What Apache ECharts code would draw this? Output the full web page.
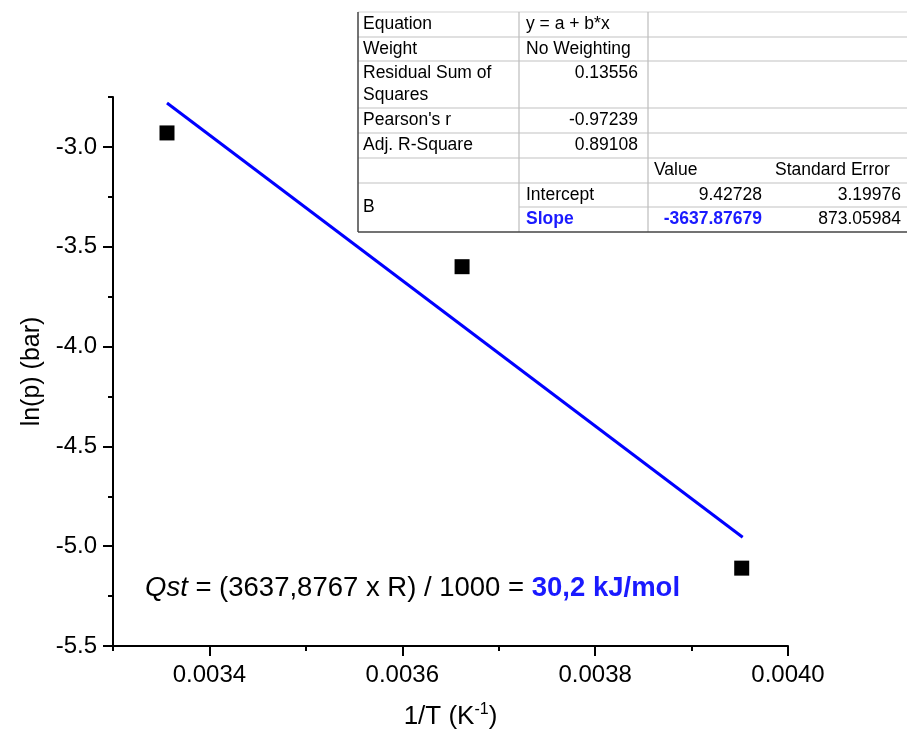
<!DOCTYPE html>
<html><head><meta charset="utf-8">
<script src="https://cdn.jsdelivr.net/npm/echarts@6/dist/echarts.min.js"></script>
<style>html,body{margin:0;padding:0;background:#fff}#c{width:907px;height:738px}</style>
</head><body><div id="c"></div>
<script>
// ---- data ----
const pointX = [0.003356, 0.003662, 0.003952];
const pointY = [-2.93, -3.60, -5.11];
const fitX = [0.003356, 0.003953];
const fitY = [-2.78, -4.955];
const xTickLabels = [0.0034, 0.0036, 0.0038, 0.0040];
const yTickLabels = [-5.5, -5.0, -4.5, -4.0, -3.5, -3.0];
const tableLabels = ['Equation', 'Weight', 'Residual Sum of\nSquares', "Pearson's r", 'Adj. R-Square'];
const tableValues = ['y = a + b*x', 'No Weighting', '0.13556', '-0.97239', '0.89108'];
const paramGroup = 'B';
const paramHeaders = ['Value', 'Standard Error'];
const paramNames = ['Intercept', 'Slope'];
const paramValues = ['9.42728', '-3637.87679'];
const paramErrors = ['3.19976', '873.05984'];
const annotationText = '{i|Qst} = (3637,8767 x R) / 1000 = {b|30,2 kJ/mol}';

const FONT = '"Liberation Sans", Arial, sans-serif';
const BLUE = '#1a1aff';
const chart = echarts.init(document.getElementById('c'), null, {renderer: 'canvas'});

// ---- table graphic ----
const rowsY = [12, 37, 61, 108, 133, 158, 183, 207, 232];
const colsX = [358, 519, 648, 908];
const tfs = 17.5;
const els = [];
els.push({type: 'rect', shape: {x: colsX[0], y: rowsY[0], width: colsX[3] - colsX[0], height: rowsY[8] - rowsY[0]}, style: {fill: '#fff'}, z: 10});
for (let i = 1; i < 8; i++) {
  const x0 = (i === 7) ? colsX[1] : colsX[0];
  els.push({type: 'line', shape: {x1: x0, y1: rowsY[i], x2: colsX[3], y2: rowsY[i]}, style: {stroke: '#d6d6d6', lineWidth: 1.5}, z: 11});
}
els.push({type: 'line', shape: {x1: colsX[0], y1: rowsY[0], x2: colsX[3], y2: rowsY[0]}, style: {stroke: '#e2e2e2', lineWidth: 1.5}, z: 11});
[colsX[1], colsX[2]].forEach(x => els.push({type: 'line', shape: {x1: x, y1: rowsY[0], x2: x, y2: rowsY[8]}, style: {stroke: '#bdbdbd', lineWidth: 1.2}, z: 11}));
els.push({type: 'line', shape: {x1: colsX[0], y1: rowsY[0], x2: colsX[0], y2: rowsY[8]}, style: {stroke: '#444', lineWidth: 1.5}, z: 12});
els.push({type: 'line', shape: {x1: colsX[0], y1: rowsY[8], x2: colsX[3], y2: rowsY[8]}, style: {stroke: '#444', lineWidth: 1.5}, z: 12});

function txt(t, x, y, align, opts) {
  els.push({type: 'text', z: 13, style: Object.assign({text: t, x: x, y: y, align: align, verticalAlign: 'middle', fontSize: tfs, fontFamily: FONT, fill: '#000', lineHeight: 22}, opts || {})});
}
tableLabels.forEach((t, i) => {
  const yc = (rowsY[i] + rowsY[i + 1]) / 2;
  txt(t, 363, yc, 'left');
  const v = tableValues[i];
  if (i < 2) txt(v, 526, yc, 'left');
  else if (i === 2) txt(v, 638, rowsY[i] + 12.5, 'right');
  else txt(v, 638, yc, 'right');
});
txt(paramGroup, 363, (rowsY[6] + rowsY[8]) / 2, 'left');
txt(paramHeaders[0], 654, (rowsY[5] + rowsY[6]) / 2, 'left');
txt(paramHeaders[1], 775, (rowsY[5] + rowsY[6]) / 2, 'left');
paramNames.forEach((n, k) => {
  const yc = (rowsY[6 + k] + rowsY[7 + k]) / 2;
  const hl = (k === 1) ? {fill: BLUE, fontWeight: 'bold'} : {};
  txt(n, 526, yc, 'left', hl);
  txt(paramValues[k], 762, yc, 'right', hl);
  txt(paramErrors[k], 901, yc, 'right');
});

// annotation
const afs = 27.5;
els.push({type: 'text', z: 13, style: {
  text: annotationText, x: 145, y: 588, verticalAlign: 'middle', fontSize: afs, fontFamily: FONT, fill: '#000',
  rich: {
    i: {fontStyle: 'italic', fontSize: afs, fontFamily: FONT, fill: '#000'},
    b: {fontWeight: 'bold', fontSize: afs, fontFamily: FONT, fill: BLUE}
  }
}});

const axisLineStyle = {color: '#000', width: 2};
const LFS = 24;
const option = {
  animation: false,
  backgroundColor: '#fff',
  grid: {left: 113, right: 119, top: 97, bottom: 92},
  xAxis: [
    {type: 'value', min: 0.0033, max: 0.0040, interval: 0.0001, position: 'bottom',
     axisLine: {show: true, onZero: false, lineStyle: axisLineStyle},
     axisTick: {show: true, inside: false, length: 5, lineStyle: {color: '#000', width: 2}},
     axisLabel: {show: false}, splitLine: {show: false}},
    {type: 'value', min: 0.0033, max: 0.0040, position: 'bottom',
     axisLine: {show: false, onZero: false},
     axisTick: {show: true, inside: false, length: 10, customValues: xTickLabels, lineStyle: {color: '#000', width: 2}},
     axisLabel: {show: true, customValues: xTickLabels, formatter: v => v.toFixed(4), fontSize: LFS, fontFamily: FONT, color: '#000', margin: 17},
     splitLine: {show: false},
     name: '1/T (K{sup|-1})', nameLocation: 'middle', nameGap: 56,
     nameTextStyle: {fontSize: 26, fontFamily: FONT, color: '#000',
       rich: {sup: {fontSize: 16, fontFamily: FONT, color: '#000', padding: [0, 0, 14, 0]}}}}
  ],
  yAxis: [
    {type: 'value', min: -5.5, max: -2.75, interval: 0.25, position: 'left',
     axisLine: {show: true, onZero: false, lineStyle: axisLineStyle},
     axisTick: {show: true, inside: false, length: 5, lineStyle: {color: '#000', width: 2}},
     axisLabel: {show: false}, splitLine: {show: false}},
    {type: 'value', min: -5.5, max: -2.75, position: 'left',
     axisLine: {show: false, onZero: false},
     axisTick: {show: true, inside: false, length: 10, customValues: yTickLabels, lineStyle: {color: '#000', width: 2}},
     axisLabel: {show: true, customValues: yTickLabels, formatter: v => v.toFixed(1), fontSize: LFS, fontFamily: FONT, color: '#000', margin: 16},
     splitLine: {show: false},
     name: 'ln(p) (bar)', nameLocation: 'middle', nameGap: 68,
     nameTextStyle: {fontSize: 25, fontFamily: FONT, color: '#000'}}
  ],
  series: [
    {type: 'line', xAxisIndex: 0, yAxisIndex: 0, data: fitX.map((x, i) => [x, fitY[i]]),
     showSymbol: false, symbol: 'none', lineStyle: {color: '#0000ff', width: 3}, z: 3},
    {type: 'scatter', xAxisIndex: 0, yAxisIndex: 0, data: pointX.map((x, i) => [x, pointY[i]]),
     symbol: 'rect', symbolSize: 15, itemStyle: {color: '#000', opacity: 1}, z: 4}
  ],
  graphic: {elements: els}
};
chart.setOption(option);
</script>
</body></html>
